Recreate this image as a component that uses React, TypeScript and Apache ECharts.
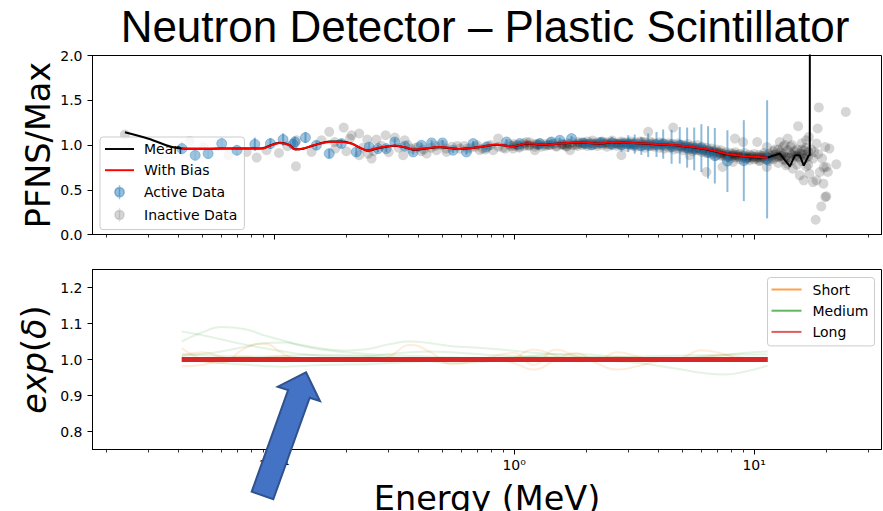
import React, { useEffect, useRef } from 'react';
import * as echarts from 'echarts';

const FONT = 'DejaVu Sans';
const TITLE = 'Neutron Detector – Plastic Scintillator';
const Y1_NAME = 'PFNS/Max';
const X_NAME = 'Energy (MeV)';

const X_MIN = 0.01751;
const X_MAX = 33.95;
const MAJOR_TICKS = [0.1, 1, 10];
const MINOR_TICKS = [0.02, 0.03, 0.04, 0.05, 0.06, 0.07, 0.08, 0.09, 0.2, 0.3, 0.4, 0.5, 0.6, 0.7, 0.8, 0.9, 2, 3, 4, 5, 6, 7, 8, 9, 20, 30];
const Y1_TICKS = [0, 0.5, 1.0, 1.5, 2.0];
const Y2_TICKS = [0.8, 0.9, 1.0, 1.1, 1.2];

// With Bias curve
const BIAS_E = [0.0412, 0.05, 0.06, 0.07, 0.08, 0.09, 0.0962, 0.1055, 0.1161, 0.1221, 0.132, 0.1459, 0.1705, 0.1904, 0.2097, 0.2466, 0.2752, 0.3183, 0.3561, 0.3796, 0.4903, 0.594, 0.719, 0.845, 0.99, 1.126, 1.365, 1.6, 1.878, 2.27, 2.57, 3.0, 3.57, 4.2, 4.9, 5.77, 6.71, 7.88, 9.27, 11.4];
const BIAS_V = [0.96, 0.958, 0.96, 0.96, 0.96, 0.962, 0.99, 1.022, 0.997, 0.95, 0.96, 0.997, 1.034, 1.034, 1.016, 0.941, 0.971, 0.994, 0.971, 0.949, 0.978, 0.956, 0.978, 1.005, 0.986, 1.016, 1.005, 1.02, 1.03, 1.016, 1.034, 1.025, 1.016, 1.005, 0.994, 0.971, 0.94, 0.896, 0.874, 0.859];

// Mean curve
const MEAN_E = [0.0239, 0.03, 0.0372, 0.0412, 0.05, 0.06, 0.07, 0.08, 0.09, 0.0962, 0.1055, 0.1161, 0.1221, 0.132, 0.1459, 0.1705, 0.1904, 0.2097, 0.2466, 0.2752, 0.3183, 0.3561, 0.3796, 0.4903, 0.594, 0.719, 0.845, 0.99, 1.126, 1.365, 1.6, 1.878, 2.27, 2.57, 3.0, 3.57, 4.2, 4.9, 5.77, 6.71, 7.88, 9.27, 11.4];
const MEAN_V = [1.143, 1.07, 0.98, 0.962, 0.958, 0.96, 0.962, 0.962, 0.965, 0.995, 1.025, 0.998, 0.952, 0.958, 0.995, 1.04, 1.04, 1.018, 0.938, 0.968, 0.992, 0.97, 0.948, 0.976, 0.955, 0.977, 1.004, 0.985, 1.015, 1.004, 1.02, 1.028, 1.015, 1.032, 1.024, 1.014, 1.004, 0.992, 0.968, 0.936, 0.893, 0.872, 0.86];
const MEAN_TAIL_E = [11.4, 12.8, 14.1, 14.8, 15.5, 16.1, 16.9, 17.06, 17.1];
const MEAN_TAIL_V = [0.86, 0.904, 0.762, 0.885, 0.885, 0.77, 0.885, 0.885, 5.0];

// Active data: [energy, value, error]
const ACTIVE_POINTS = [
  [0.0413, 0.96, 0.08], [0.0469, 0.885, 0.06], [0.0531, 0.904, 0.06], [0.0605, 1.016, 0.07], [0.07, 0.941, 0.06],
  [0.0831, 1.008, 0.075], [0.0965, 1.016, 0.06], [0.109, 1.061, 0.07], [0.1201, 1.008, 0.06], [0.122, 1.034, 0.06],
  [0.1351, 1.083, 0.06], [0.15, 0.997, 0.05], [0.1697, 0.904, 0.05], [0.1907, 1.016, 0.05], [0.22, 0.922, 0.05],
  [0.249, 0.978, 0.04], [0.2711, 0.96, 0.04], [0.2932, 0.96, 0.04], [0.3183, 1.034, 0.04], [0.35, 0.986, 0.04],
  [0.3796, 0.922, 0.03], [0.411, 0.997, 0.03], [0.453, 1.023, 0.03], [0.503, 1.023, 0.03], [0.557, 0.941, 0.03],
  [0.633, 0.922, 0.03], [0.675, 1.016, 0.03], [0.767, 0.978, 0.03], [0.93, 1.034, 0.03], [1.056, 1.016, 0.03],
  [1.28, 1.016, 0.03], [1.43, 1.034, 0.03], [1.55, 1.053, 0.03], [1.735, 1.072, 0.03], [1.95, 1.02, 0.03],
  [2.1, 1.0, 0.04], [2.3, 1.03, 0.05], [2.55, 1.016, 0.075], [2.8, 1.0, 0.075], [2.99, 1.015, 0.094],
  [3.18, 1.01, 0.107], [3.39, 0.99, 0.1], [3.62, 0.997, 0.131], [3.92, 1.006, 0.14], [4.18, 1.01, 0.163],
  [4.53, 0.98, 0.19], [4.9, 0.996, 0.204], [5.26, 0.971, 0.224], [5.63, 0.956, 0.239], [6.03, 0.965, 0.267],
  [6.43, 0.917, 0.293], [6.86, 0.88, 0.31], [7.74, 0.82, 0.345], [9.06, 0.825, 0.452], [11.33, 0.84, 0.66]
];

// Inactive data: sparse points [energy, value]
const INACTIVE_SPARSE = [
  [0.0239, 1.117], [0.0445, 1.046], [0.0508, 0.978], [0.0645, 0.885], [0.0768, 0.922],
  [0.0846, 0.859], [0.093, 0.941], [0.1048, 0.911], [0.1136, 0.986], [0.1233, 0.762], [0.1241, 1.053],
  [0.1432, 0.922], [0.1576, 1.053], [0.1697, 1.147], [0.1789, 1.034], [0.195, 1.195], [0.207, 1.072],
  [0.2102, 1.109], [0.2263, 1.128], [0.2263, 0.885], [0.2444, 1.061], [0.2467, 0.904], [0.2547, 0.848],
  [0.2668, 1.061], [0.2914, 1.109], [0.3183, 1.083], [0.3449, 0.885], [0.35, 1.053], [0.432, 0.904],
  [0.475, 0.941], [0.523, 0.922], [0.594, 0.96], [0.719, 0.941], [0.818, 0.941], [0.858, 1.072],
  [0.99, 0.96], [1.126, 1.034], [1.22, 0.941], [1.71, 0.941], [1.85, 1.034],
  [0.18, 0.96], [0.2, 0.93], [0.235, 0.97], [0.26, 0.93], [0.28, 0.99], [0.3, 0.92], [0.33, 0.97],
  [0.36, 1.0], [0.39, 0.97], [0.41, 0.93], [0.45, 0.97], [0.5, 1.0], [0.55, 0.98], [0.62, 0.99],
  [0.66, 0.97], [0.7, 1.0], [0.76, 0.95], [0.8, 1.0], [0.9, 0.97], [0.95, 1.01], [1.05, 0.98],
  [1.15, 0.99], [1.25, 1.0], [1.3, 0.98], [1.4, 1.0], [1.5, 0.99], [1.6, 1.01], [1.65, 0.98],
  [1.8, 1.0], [1.95, 1.02], [0.37, 0.96], [0.4, 0.98], [0.42, 0.95], [0.47, 0.99], [0.52, 0.96],
  [0.58, 0.99], [0.64, 0.96], [0.69, 0.98], [0.74, 0.96], [0.78, 0.99], [0.86, 0.98], [0.92, 0.96], [0.97, 0.99],
  [2.8, 0.885], [3.62, 1.147], [4.6, 1.195], [5.39, 0.885], [6.33, 0.698], [7.39, 0.754], [7.77, 0.866],
  [8.16, 0.81], [8.32, 1.072], [9.0, 1.034], [9.3, 0.848], [10.3, 1.034], [10.6, 0.829], [11.3, 0.978],
  [11.3, 0.754], [12.8, 1.034], [12.8, 0.866], [13.6, 0.773], [13.8, 1.072], [14.5, 0.736], [15.0, 0.885],
  [15.26, 1.21], [15.5, 0.661], [16.1, 0.605], [16.5, 1.053], [16.9, 1.09], [17.0, 0.68], [17.6, 0.586],
  [17.6, 0.848], [18.05, 0.165], [18.2, 0.605], [18.2, 1.016], [18.4, 1.184], [18.6, 1.42], [18.8, 0.698],
  [19.05, 0.314], [19.45, 0.568], [19.8, 0.978], [19.8, 0.418], [20.0, 0.754], [20.0, 0.426], [20.3, 0.698],
  [20.6, 0.96], [22.0, 0.784], [24.1, 1.37], [12.2, 0.95], [13.0, 0.88], [13.4, 1.0], [14.2, 0.98],
  [15.8, 0.95], [16.2, 0.85], [16.8, 0.78], [17.3, 0.95], [17.8, 0.92], [18.5, 0.9], [19.2, 0.85], [19.5, 0.75]
];

// Inactive data: dense band [energy, value]
const INACTIVE_BAND = [
  [1.0, 0.99], [1.0, 1.01], [1.05, 1.0], [1.05, 0.97], [1.1, 1.02], [1.1, 0.99], [1.16, 1.0], [1.16, 1.03],
  [1.22, 0.98], [1.22, 1.01], [1.28, 1.0], [1.28, 1.02], [1.35, 0.99], [1.35, 1.01], [1.42, 1.0], [1.42, 1.03],
  [1.5, 0.98], [1.5, 1.02], [1.58, 1.0], [1.58, 1.01], [1.66, 1.02], [1.66, 0.99], [1.75, 1.0], [1.75, 1.03],
  [1.84, 1.01], [1.84, 0.99], [1.93, 1.03], [1.93, 1.0],
  [2.02, 1.01], [2.02, 1.04], [2.02, 0.99], [2.12, 1.02], [2.12, 1.0], [2.12, 1.05], [2.22, 1.03], [2.22, 0.99],
  [2.22, 1.01], [2.33, 1.0], [2.33, 1.02], [2.33, 1.04], [2.44, 1.01], [2.44, 0.98], [2.44, 1.03], [2.56, 1.03],
  [2.56, 1.0], [2.56, 1.05], [2.68, 1.02], [2.68, 0.99], [2.68, 1.01], [2.8, 1.04], [2.8, 1.0], [2.8, 1.02],
  [2.93, 1.01], [2.93, 0.98], [2.93, 1.03], [3.07, 1.02], [3.07, 1.0], [3.07, 1.04], [3.21, 1.0], [3.21, 1.03],
  [3.21, 0.98], [3.36, 1.02], [3.36, 0.99], [3.36, 1.04], [3.52, 1.0], [3.52, 1.03], [3.52, 0.97], [3.68, 1.01],
  [3.68, 0.99], [3.68, 1.04], [3.85, 1.02], [3.85, 0.98], [3.85, 1.0], [4.03, 1.0], [4.03, 1.03], [4.03, 0.97],
  [4.22, 0.99], [4.22, 1.02], [4.22, 0.96], [4.42, 1.0], [4.42, 0.97], [4.42, 1.02], [4.62, 0.98], [4.62, 1.01],
  [4.62, 0.95], [4.84, 0.99], [4.84, 0.96], [4.84, 1.02], [5.06, 0.97], [5.06, 1.0], [5.06, 0.94], [5.3, 0.98],
  [5.3, 0.95], [5.3, 1.01], [5.55, 0.96], [5.55, 0.99], [5.55, 0.93], [5.8, 0.97], [5.8, 0.94], [5.8, 1.0],
  [6.07, 0.95], [6.07, 0.92], [6.07, 0.98], [6.35, 0.94], [6.35, 0.97], [6.35, 0.91], [6.65, 0.93], [6.65, 0.9],
  [6.65, 0.96], [6.96, 0.92], [6.96, 0.95], [6.96, 0.88], [7.28, 0.91], [7.28, 0.88], [7.28, 0.94], [7.62, 0.89],
  [7.62, 0.92], [7.62, 0.86], [7.98, 0.88], [7.98, 0.91], [7.98, 0.85], [8.35, 0.89], [8.35, 0.86], [8.35, 0.92],
  [8.74, 0.87], [8.74, 0.9], [8.74, 0.84], [9.15, 0.88], [9.15, 0.85], [9.15, 0.91], [9.57, 0.86], [9.57, 0.89],
  [9.57, 0.83], [10.0, 0.87], [10.0, 0.84], [10.0, 0.9], [10.5, 0.86], [10.5, 0.89], [10.5, 0.82], [11.0, 0.88],
  [11.0, 0.85], [11.0, 0.91], [11.5, 0.86], [11.5, 0.82], [11.5, 0.9], [12.0, 0.89], [12.0, 0.84], [12.0, 0.93],
  [12.6, 0.87], [12.6, 0.8], [12.6, 0.95], [13.2, 0.9], [13.2, 0.84], [13.2, 0.98], [13.8, 0.86], [13.8, 0.79],
  [13.8, 0.94], [14.4, 0.89], [14.4, 0.83], [14.4, 1.0], [15.1, 0.87], [15.1, 0.78], [15.1, 0.95], [15.8, 0.9],
  [15.8, 0.82], [15.8, 1.02], [16.5, 0.86], [16.5, 0.76], [16.5, 0.97]
];

// Inactive data: second dense layer along the curve [energy, value]
const INACTIVE_CORE = [
  [1.03, 1.0], [1.13, 1.0], [1.25, 1.01], [1.38, 1.0], [1.46, 1.01], [1.62, 1.0], [1.7, 1.01], [1.88, 1.02],
  [1.98, 1.01], [2.07, 1.02], [2.17, 1.01], [2.28, 1.02], [2.39, 1.02], [2.5, 1.01], [2.62, 1.02], [2.74, 1.01],
  [2.87, 1.02], [3.0, 1.01], [3.14, 1.01], [3.14, 0.99], [3.44, 1.03], [3.44, 1.0], [3.76, 1.02], [3.76, 0.99],
  [4.12, 1.0], [4.12, 1.02], [4.52, 0.99], [4.52, 1.01], [4.95, 0.98], [4.95, 1.0], [5.18, 0.97], [5.18, 0.99],
  [5.42, 0.96], [5.42, 0.98], [5.67, 0.97], [5.67, 0.95], [5.93, 0.96], [5.93, 0.94], [6.2, 0.95], [6.2, 0.93],
  [6.5, 0.94], [6.5, 0.92], [6.8, 0.93], [6.8, 0.91], [7.12, 0.92], [7.12, 0.9], [7.45, 0.9], [7.45, 0.88],
  [7.8, 0.89], [7.8, 0.87], [8.16, 0.88], [8.16, 0.9], [8.55, 0.87], [8.55, 0.89], [8.95, 0.88], [8.95, 0.86],
  [9.36, 0.87], [9.36, 0.85], [9.78, 0.88], [9.78, 0.86], [10.25, 0.87], [10.25, 0.85], [10.75, 0.86], [10.75, 0.88],
  [11.25, 0.87], [11.25, 0.84], [11.75, 0.88], [11.75, 0.85], [12.3, 0.9], [12.3, 0.86], [12.9, 0.88], [12.9, 0.92],
  [13.5, 0.87], [13.5, 0.83], [14.1, 0.91], [14.1, 0.86], [14.75, 0.88], [14.75, 0.93], [15.45, 0.86], [15.45, 0.91],
  [16.15, 0.89], [16.15, 0.94], [16.8, 0.87], [16.8, 0.92]
];

// Bottom panel: exp(delta) samples
const GRID_E = [0.0412, 0.05, 0.06, 0.075, 0.09, 0.11, 0.13, 0.16, 0.2, 0.25, 0.3, 0.37, 0.45, 0.55, 0.68, 0.83, 1.0, 1.2, 1.5, 1.8, 2.2, 2.7, 3.3, 4.0, 5.0, 6.0, 7.5, 9.0, 11.4];
const MEDIUM_1 = [1.078, 1.068, 1.056, 1.042, 1.032, 1.022, 1.015, 1.01, 1.008, 1.01, 1.015, 1.02, 1.022, 1.02, 1.016, 1.012, 1.01, 1.008, 1.007, 1.006, 1.006, 1.007, 1.008, 1.01, 1.011, 1.012, 1.013, 1.014, 1.014];
const MEDIUM_2 = [1.05, 1.075, 1.09, 1.085, 1.068, 1.052, 1.038, 1.027, 1.02, 1.015, 1.012, 1.01, 1.008, 1.006, 1.005, 1.005, 1.006, 1.006, 1.005, 1.004, 1.003, 1.002, 1.002, 1.003, 1.003, 1.004, 1.004, 1.005, 1.005];
const MEDIUM_3 = [1.01, 1.015, 1.022, 1.035, 1.045, 1.047, 1.04, 1.03, 1.025, 1.03, 1.042, 1.05, 1.045, 1.037, 1.033, 1.029, 1.024, 1.019, 1.014, 1.01, 1.006, 1.003, 1.001, 1.0, 1.0, 1.0, 1.001, 1.002, 1.003];
const MEDIUM_4 = [1.0, 0.995, 0.99, 0.986, 0.982, 0.98, 0.982, 0.985, 0.986, 0.987, 0.99, 0.993, 0.996, 0.998, 1.0, 1.001, 1.002, 1.002, 1.001, 1.0, 0.998, 0.995, 0.99, 0.982, 0.972, 0.963, 0.958, 0.965, 0.983];
const MEDIUM_5 = [1.015, 1.012, 1.01, 1.008, 1.008, 1.01, 1.012, 1.013, 1.012, 1.01, 1.006, 1.002, 0.995, 0.99, 0.992, 0.997, 1.003, 1.01, 1.015, 1.015, 1.012, 1.008, 1.005, 1.003, 1.004, 1.008, 1.012, 1.018, 1.022];
const SHORT_1 = [1.032, 1.0, 0.99, 1.03, 1.044, 1.015, 0.998, 1.0, 1.0, 1.0, 1.008, 1.04, 1.02, 0.987, 0.995, 1.01, 1.018, 0.985, 1.028, 1.01, 0.998, 1.02, 1.008, 1.0, 1.005, 1.026, 1.015, 1.0, 1.0];
const SHORT_2 = [0.981, 0.985, 1.0, 1.008, 1.0, 0.995, 1.0, 1.0, 1.0, 1.0, 1.0, 1.0, 1.0, 1.0, 1.0, 1.0, 0.99, 0.972, 1.0, 1.018, 0.99, 0.972, 0.982, 0.995, 1.0, 1.0, 1.0, 1.0, 1.0];
const SHORT_3 = [1.01, 1.02, 1.008, 0.995, 1.005, 1.01, 1.004, 0.998, 1.0, 1.002, 1.0, 0.996, 1.0, 1.004, 1.0, 0.998, 1.004, 1.028, 1.01, 0.995, 1.0, 1.006, 1.0, 0.996, 1.0, 1.006, 1.012, 1.005, 1.0];
const LONG_1 = [1.0, 1.0, 1.0, 1.0, 1.0, 1.0, 1.0, 1.0, 1.0, 1.0, 1.0, 1.0, 1.0, 1.0, 1.0, 1.0, 1.0, 1.0, 1.0, 1.0, 1.0, 1.0, 1.0, 1.0, 1.0, 1.0, 1.0, 1.0, 1.0];

const SUP: Record<string, string> = { '-1': '⁻¹', '0': '⁰', '1': '¹', '-2': '⁻²' };
const ERR_ICON = 'path://M4,0L4,12M0,6A4,4,0,1,0,8,6A4,4,0,1,0,0,6Z';
const LINE_ICON = 'path://M0,0H30V2H0Z';

function pairs(xs: number[], ys: number[]) {
  return xs.map((x, i) => [x, ys[i]]);
}

function xAxis(gridIndex: number, major: boolean, showLabel: boolean) {
  return {
    type: 'log',
    logBase: 10,
    gridIndex,
    min: X_MIN,
    max: X_MAX,
    position: 'bottom',
    silent: true,
    axisLine: { show: major, onZero: false, lineStyle: { color: '#000', width: 1 } },
    axisTick: {
      show: true,
      customValues: major ? MAJOR_TICKS : MINOR_TICKS,
      length: major ? 5 : 3,
      lineStyle: { color: '#000', width: major ? 1 : 0.8 },
    },
    axisLabel: showLabel
      ? {
          show: true,
          customValues: MAJOR_TICKS,
          formatter: (v: number) => '10' + SUP[String(Math.round(Math.log10(v)))],
          color: '#000',
          fontFamily: FONT,
          fontSize: 14,
          margin: 8,
        }
      : { show: false },
    splitLine: { show: false },
    minorTick: { show: false },
    minorSplitLine: { show: false },
  };
}

function lineSeries(name: string, xi: number, yi: number, data: number[][], color: string, width: number, smooth: number | boolean, z: number) {
  return {
    type: 'line',
    name,
    xAxisIndex: xi,
    yAxisIndex: yi,
    data,
    symbol: 'none',
    showSymbol: false,
    smooth,
    lineStyle: { color, width },
    itemStyle: { color },
    z,
    silent: true,
  };
}

function buildOption() {
  const gridBase = { show: true, borderColor: '#000', borderWidth: 1, backgroundColor: 'transparent', outerBoundsMode: 'none', containLabel: false };
  const mediumColor = 'rgba(44,160,44,0.13)';
  const shortColor = 'rgba(255,127,14,0.15)';
  const grayDot = 'rgba(0,0,0,0.2)';
  return {
    animation: false,
    backgroundColor: '#fff',
    grid: [
      { ...gridBase, left: 92.5, top: 55.5, width: 789, height: 179 },
      { ...gridBase, left: 92.5, top: 269.5, width: 789, height: 180 },
    ],
    xAxis: [xAxis(0, true, false), xAxis(0, false, false), xAxis(1, true, true), xAxis(1, false, false)],
    yAxis: [
      {
        type: 'value',
        gridIndex: 0,
        min: 0,
        max: 2,
        interval: 0.5,
        silent: true,
        axisLine: { show: true, onZero: false, lineStyle: { color: '#000', width: 1 } },
        axisTick: { show: true, length: 5, customValues: Y1_TICKS, lineStyle: { color: '#000', width: 1 } },
        axisLabel: { customValues: Y1_TICKS, formatter: (v: number) => v.toFixed(1), color: '#000', fontFamily: FONT, fontSize: 14, margin: 10 },
        splitLine: { show: false },
      },
      {
        type: 'value',
        gridIndex: 1,
        min: 0.75,
        max: 1.25,
        silent: true,
        axisLine: { show: true, onZero: false, lineStyle: { color: '#000', width: 1 } },
        axisTick: { show: true, length: 5, customValues: Y2_TICKS, lineStyle: { color: '#000', width: 1 } },
        axisLabel: { customValues: Y2_TICKS, formatter: (v: number) => v.toFixed(1), color: '#000', fontFamily: FONT, fontSize: 14, margin: 10 },
        splitLine: { show: false },
      },
    ],
    legend: [
      {
        show: true,
        orient: 'vertical',
        left: 100,
        top: 137,
        padding: [5, 7, 7, 5],
        itemGap: 7.2,
        itemWidth: 29,
        itemHeight: 14,
        backgroundColor: 'rgba(255,255,255,0.8)',
        borderColor: '#cccccc',
        borderWidth: 1,
        borderRadius: 3,
        selectedMode: false,
        textStyle: { fontFamily: FONT, fontSize: 14, color: '#000', padding: [0, 0, 0, 5] },
        data: [
          { name: 'Mean', icon: LINE_ICON, itemStyle: { color: '#000', borderWidth: 0 } },
          { name: 'With Bias', icon: LINE_ICON, itemStyle: { color: '#ff0000', borderWidth: 0 } },
          { name: 'Active Data', icon: ERR_ICON, itemStyle: { color: 'rgba(31,119,180,0.6)', borderColor: 'rgba(31,119,180,0.6)', borderWidth: 1.5 } },
          { name: 'Inactive Data', icon: ERR_ICON, itemStyle: { color: 'rgba(0,0,0,0.2)', borderColor: 'rgba(0,0,0,0.15)', borderWidth: 1.5 } },
        ],
      },
      {
        show: true,
        orient: 'vertical',
        left: 767.5,
        top: 277.5,
        padding: [5, 6, 7, 4],
        itemGap: 7.2,
        itemWidth: 30,
        itemHeight: 14,
        backgroundColor: 'rgba(255,255,255,0.8)',
        borderColor: '#cccccc',
        borderWidth: 1,
        borderRadius: 3,
        selectedMode: false,
        textStyle: { fontFamily: FONT, fontSize: 14, color: '#000', padding: [0, 0, 0, 6] },
        data: [
          { name: 'Short', icon: LINE_ICON, itemStyle: { color: 'rgba(255,127,14,0.75)', borderWidth: 0 } },
          { name: 'Medium', icon: LINE_ICON, itemStyle: { color: 'rgba(44,160,44,0.75)', borderWidth: 0 } },
          { name: 'Long', icon: LINE_ICON, itemStyle: { color: 'rgba(214,39,40,0.75)', borderWidth: 0 } },
        ],
      },
    ],
    series: [
      {
        type: 'scatter',
        name: 'Inactive Data',
        xAxisIndex: 0,
        yAxisIndex: 0,
        data: [...INACTIVE_SPARSE, ...INACTIVE_BAND, ...INACTIVE_CORE],
        symbol: 'circle',
        symbolSize: 10,
        itemStyle: { color: grayDot },
        z: 2,
        silent: true,
      },
      {
        type: 'custom',
        name: 'Active Error',
        xAxisIndex: 0,
        yAxisIndex: 0,
        data: ACTIVE_POINTS,
        encode: { x: 0, y: 1 },
        silent: true,
        z: 3,
        renderItem: (_params: any, api: any) => {
          const x = api.value(0);
          const v = api.value(1);
          const e = api.value(2);
          const a = api.coord([x, v - e]);
          const b = api.coord([x, v + e]);
          return {
            type: 'line',
            shape: { x1: a[0], y1: a[1], x2: b[0], y2: b[1] },
            style: { stroke: 'rgba(31,119,180,0.5)', lineWidth: 2 },
          };
        },
      },
      {
        type: 'scatter',
        name: 'Active Data',
        xAxisIndex: 0,
        yAxisIndex: 0,
        data: ACTIVE_POINTS.map((p) => [p[0], p[1]]),
        symbol: 'circle',
        symbolSize: 10,
        itemStyle: { color: 'rgba(31,119,180,0.55)', borderColor: 'rgba(31,119,180,0.45)', borderWidth: 1 },
        z: 4,
        silent: true,
      },
      lineSeries('Mean', 0, 0, pairs(MEAN_E, MEAN_V), '#000', 2, 0.3, 5),
      lineSeries('Mean', 0, 0, pairs(MEAN_TAIL_E, MEAN_TAIL_V), '#000', 2, false, 5),
      lineSeries('With Bias', 0, 0, pairs(BIAS_E, BIAS_V), '#ff0000', 2, 0.3, 6),
      lineSeries('Medium', 2, 1, pairs(GRID_E, MEDIUM_1), mediumColor, 2, 0.5, 2),
      lineSeries('Medium', 2, 1, pairs(GRID_E, MEDIUM_2), mediumColor, 2, 0.5, 2),
      lineSeries('Medium', 2, 1, pairs(GRID_E, MEDIUM_3), mediumColor, 2, 0.5, 2),
      lineSeries('Medium', 2, 1, pairs(GRID_E, MEDIUM_4), mediumColor, 2, 0.5, 2),
      lineSeries('Medium', 2, 1, pairs(GRID_E, MEDIUM_5), mediumColor, 2, 0.5, 2),
      lineSeries('Short', 2, 1, pairs(GRID_E, SHORT_1), shortColor, 2, 0.5, 3),
      lineSeries('Short', 2, 1, pairs(GRID_E, SHORT_2), shortColor, 2, 0.5, 3),
      lineSeries('Short', 2, 1, pairs(GRID_E, SHORT_3), shortColor, 2, 0.5, 3),
      lineSeries('Long', 2, 1, pairs(GRID_E, LONG_1), '#d62728', 5, false, 4),
    ],
    graphic: {
      elements: [
        {
          type: 'text',
          x: 485,
          y: 26,
          style: { text: TITLE, font: '44px "Liberation Sans"', fill: '#000', align: 'center', verticalAlign: 'middle', textAlign: 'center', textVerticalAlign: 'middle' },
        },
        {
          type: 'text',
          x: 38.3,
          y: 145,
          rotation: Math.PI / 2,
          style: { text: Y1_NAME, font: '33.5px "DejaVu Sans"', fill: '#000', align: 'center', verticalAlign: 'middle', textAlign: 'center', textVerticalAlign: 'middle' },
        },
        {
          type: 'text',
          x: 34.2,
          y: 359.5,
          rotation: Math.PI / 2,
          style: {
            text: '{i|exp}{n|(}{i|δ}{n|)}',
            rich: {
              i: { fontStyle: 'italic', fontSize: 33.5, fontFamily: FONT, fill: '#000' },
              n: { fontSize: 33.5, fontFamily: FONT, fill: '#000' },
            },
            font: '33.5px "DejaVu Sans"',
            fill: '#000',
            align: 'center',
            verticalAlign: 'middle',
            textAlign: 'center',
            textVerticalAlign: 'middle',
          },
        },
        {
          type: 'text',
          x: 487,
          y: 498.4,
          style: { text: X_NAME, font: '33.5px "DejaVu Sans"', fill: '#000', align: 'center', verticalAlign: 'middle', textAlign: 'center', textVerticalAlign: 'middle' },
        },
        {
          type: 'polygon',
          z: 100,
          shape: { points: [[306, 372.3], [320, 401], [309.7, 397.7], [273.3, 499.3], [251.7, 491.7], [288.1, 390.1], [277.7, 386.7]] },
          style: { fill: '#4472C4', stroke: '#2F528F', lineWidth: 2, lineJoin: 'miter' },
        },
      ],
    },
  };
}

export default function App() {
  const ref = useRef<HTMLDivElement>(null);
  useEffect(() => {
    if (!ref.current) return;
    const chart = echarts.init(ref.current, undefined, { renderer: 'svg' });
    chart.setOption(buildOption() as any);
    return () => chart.dispose();
  }, []);
  return <div ref={ref} style={{ position: 'absolute', left: 0, top: 0, width: 883, height: 511, background: '#fff' }} />;
}
